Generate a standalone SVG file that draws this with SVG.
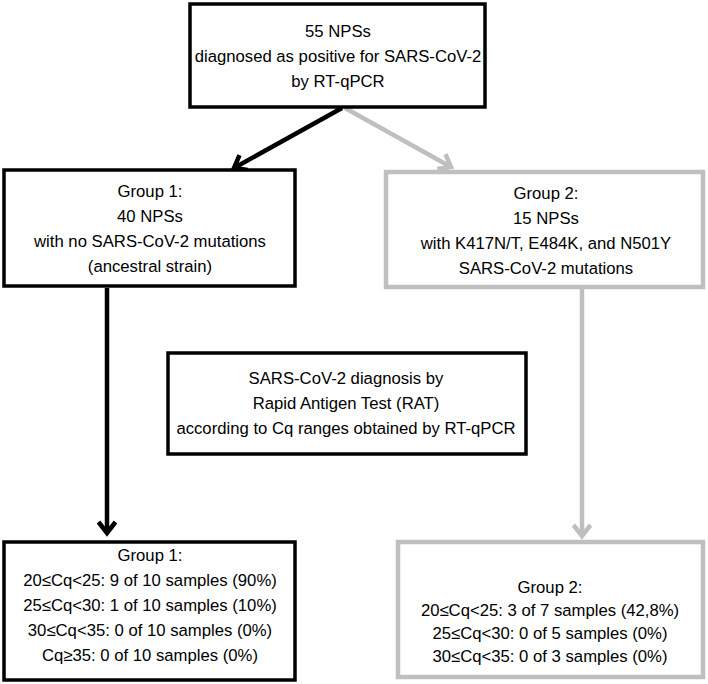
<svg xmlns="http://www.w3.org/2000/svg" width="708" height="684" viewBox="0 0 708 684">
<defs>
<style>
.t{font-family:"Liberation Sans",Arial,sans-serif;font-size:16.7px;fill:#000;text-anchor:middle}
.bk{fill:#fff;stroke:#000;stroke-width:3.5}
.gy{fill:#fff;stroke:#bfbfbf;stroke-width:4.5}
.lk{fill:none;stroke:#000;stroke-width:4.5}
.lg{fill:none;stroke:#bfbfbf;stroke-width:4.5}
</style>
<marker id="ak" markerUnits="userSpaceOnUse" viewBox="-16 -12 20 24" markerWidth="20" markerHeight="24" refX="0" refY="0" orient="auto" overflow="visible">
<path d="M-11,-8.5 L0,0 L-11,8.5" fill="none" stroke="#000" stroke-width="4.5"/>
</marker>
<marker id="ag" markerUnits="userSpaceOnUse" viewBox="-16 -12 20 24" markerWidth="20" markerHeight="24" refX="0" refY="0" orient="auto" overflow="visible">
<path d="M-11,-8.5 L0,0 L-11,8.5" fill="none" stroke="#bfbfbf" stroke-width="4.5"/>
</marker>
</defs>
<rect width="708" height="684" fill="#fff"/>
<g id="connectors">
<path class="lk" d="M342,108 L234,168" marker-end="url(#ak)"/>
<path class="lg" d="M345,108 L451,167" marker-end="url(#ag)"/>
<path class="lk" d="M107,288 L107,533" marker-end="url(#ak)"/>
<path class="lg" d="M582,289 L582,536" marker-end="url(#ag)"/>
</g>
<g id="top">
<rect class="bk" x="190" y="4" width="295" height="103"/>
<text class="t" x="338" y="37">55 NPSs</text>
<text class="t" x="338" y="62">diagnosed as positive for SARS-CoV-2</text>
<text class="t" x="338" y="87">by RT-qPCR</text>
</g>
<g id="group1">
<rect class="bk" x="4" y="170" width="291" height="116"/>
<text class="t" x="150" y="197">Group 1:</text>
<text class="t" x="150" y="222">40 NPSs</text>
<text class="t" x="150" y="247">with no SARS-CoV-2 mutations</text>
<text class="t" x="150" y="272">(ancestral strain)</text>
</g>
<g id="group2">
<rect class="gy" x="386" y="172" width="317" height="115"/>
<text class="t" x="546" y="199">Group 2:</text>
<text class="t" x="546" y="224">15 NPSs</text>
<text class="t" x="546" y="249">with K417N/T, E484K, and N501Y</text>
<text class="t" x="546" y="274">SARS-CoV-2 mutations</text>
</g>
<g id="rat">
<rect class="bk" x="168" y="353" width="358" height="101"/>
<text class="t" x="346" y="384">SARS-CoV-2 diagnosis by</text>
<text class="t" x="346" y="409">Rapid Antigen Test (RAT)</text>
<text class="t" x="346" y="434">according to Cq ranges obtained by RT-qPCR</text>
</g>
<g id="result1">
<rect class="bk" x="4" y="542" width="291" height="138"/>
<text class="t" x="150" y="561">Group 1:</text>
<text class="t" x="150" y="586">20≤Cq&lt;25: 9 of 10 samples (90%)</text>
<text class="t" x="150" y="611">25≤Cq&lt;30: 1 of 10 samples (10%)</text>
<text class="t" x="150" y="636">30≤Cq&lt;35: 0 of 10 samples (0%)</text>
<text class="t" x="150" y="661">Cq≥35: 0 of 10 samples (0%)</text>
</g>
<g id="result2">
<rect class="gy" x="398" y="542" width="305" height="135"/>
<text class="t" x="550" y="593">Group 2:</text>
<text class="t" x="550" y="616">20≤Cq&lt;25: 3 of 7 samples (42,8%)</text>
<text class="t" x="550" y="639">25≤Cq&lt;30: 0 of 5 samples (0%)</text>
<text class="t" x="550" y="662">30≤Cq&lt;35: 0 of 3 samples (0%)</text>
</g>
</svg>
